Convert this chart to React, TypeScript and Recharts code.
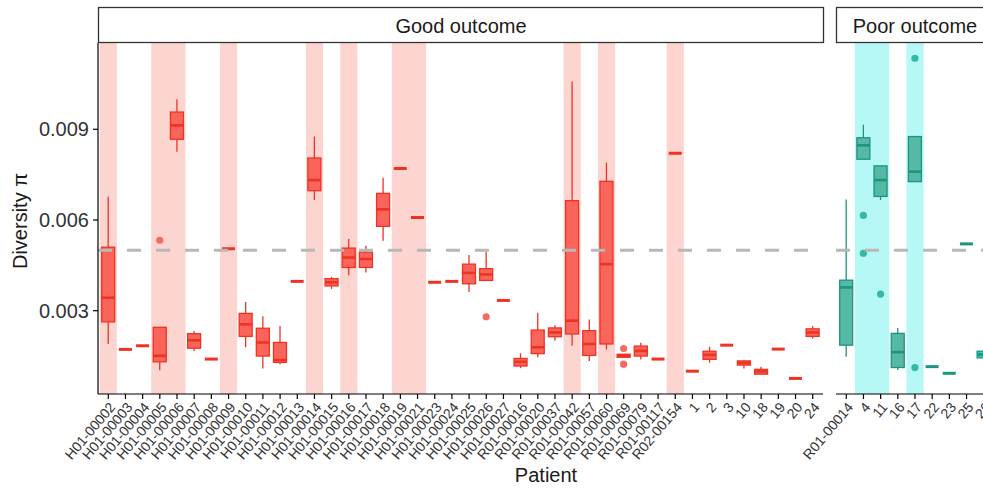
import React from "react";
import {
  ComposedChart,
  Bar,
  XAxis,
  YAxis,
  ReferenceArea,
  ReferenceLine,
} from "recharts";

// Nucleotide diversity per patient, summarised as boxplot stats
const goodPatients = [
  "H01-00002", "H01-00003", "H01-00004", "H01-00005", "H01-00006", "H01-00007",
  "H01-00008", "H01-00009", "H01-00010", "H01-00011", "H01-00012", "H01-00013",
  "H01-00014", "H01-00015", "H01-00016", "H01-00017", "H01-00018", "H01-00019",
  "H01-00021", "H01-00023", "H01-00024", "H01-00025", "H01-00026", "H01-00027",
  "R01-00016", "R01-00020", "R01-00037", "R01-00042", "R01-00057", "R01-00060",
  "R01-00069", "R01-00079", "R01-00117", "R02-00154",
  "1", "2", "3", "10", "18", "19", "20", "24",
];
const goodMin = [
  0.0019, 0.00172, 0.00184, 0.00103, 0.00826, 0.00167,
  0.0014, 0.00505, 0.00179, 0.00109, 0.00123, 0.00397,
  0.00666, 0.00372, 0.00417, 0.00426, 0.00531, 0.0077,
  0.00608, 0.00394, 0.00397, 0.00362, 0.004, 0.00334,
  0.0011, 0.00146, 0.00201, 0.00184, 0.00134, 0.00172,
  0.00146, 0.00139, 0.0014, 0.00821,
  0.001, 0.00128, 0.00186, 0.00109, 0.0009, 0.00173, 0.00076, 0.00208,
];
const goodQ1 = [
  0.00263, 0.00172, 0.00184, 0.00131, 0.00867, 0.00176,
  0.0014, 0.00505, 0.00215, 0.0015, 0.00129, 0.00397,
  0.00697, 0.00382, 0.00443, 0.00443, 0.00579, 0.0077,
  0.00608, 0.00394, 0.00397, 0.00389, 0.004, 0.00334,
  0.00117, 0.00158, 0.00214, 0.00223, 0.00152, 0.0019,
  0.00146, 0.0015, 0.0014, 0.00821,
  0.001, 0.00139, 0.00186, 0.0012, 0.0009, 0.00173, 0.00076, 0.00215,
];
const goodMedian = [
  0.00343, 0.00172, 0.00184, 0.00151, 0.00913, 0.00202,
  0.0014, 0.00505, 0.00255, 0.00195, 0.00137, 0.00397,
  0.00732, 0.00394, 0.00476, 0.00471, 0.00635, 0.0077,
  0.00608, 0.00394, 0.00397, 0.00425, 0.0042, 0.00334,
  0.00131, 0.00179, 0.00228, 0.00267, 0.0019, 0.00454,
  0.00151, 0.00167, 0.0014, 0.00821,
  0.001, 0.00154, 0.00186, 0.00128, 0.00099, 0.00173, 0.00076, 0.00228,
];
const goodQ3 = [
  0.0051, 0.00172, 0.00184, 0.00245, 0.00957, 0.00224,
  0.0014, 0.00505, 0.00291, 0.00242, 0.00195, 0.00397,
  0.00805, 0.00406, 0.00507, 0.00494, 0.00688, 0.0077,
  0.00608, 0.00394, 0.00397, 0.00454, 0.00439, 0.00334,
  0.00142, 0.00236, 0.00243, 0.00664, 0.00234, 0.00728,
  0.00156, 0.00183, 0.0014, 0.00821,
  0.001, 0.00166, 0.00186, 0.00134, 0.00106, 0.00173, 0.00076, 0.0024,
];
const goodMax = [
  0.00677, 0.00172, 0.00184, 0.00245, 0.00999, 0.00233,
  0.0014, 0.00505, 0.00329, 0.00282, 0.00249, 0.00397,
  0.00876, 0.00412, 0.00537, 0.00515, 0.0074, 0.0077,
  0.00608, 0.00394, 0.00397, 0.00484, 0.00494, 0.00334,
  0.00159, 0.00293, 0.00252, 0.01058, 0.00271, 0.0079,
  0.00156, 0.00194, 0.0014, 0.00821,
  0.001, 0.00181, 0.00186, 0.00134, 0.00115, 0.00173, 0.00076, 0.00249,
];
const goodOutliers: [string, number][] = [
  ["H01-00005", 0.00533],
  ["H01-00026", 0.0028],
  ["R01-00069", 0.00175],
  ["R01-00069", 0.00123],
];
const goodHighlighted = [
  "H01-00002", "H01-00005", "H01-00006", "H01-00009", "H01-00014", "H01-00016",
  "H01-00019", "H01-00021", "R01-00042", "R01-00060", "R02-00154",
];

const poorPatients = ["R01-00014", "4", "11", "16", "17", "22", "23", "25", "26"];
const poorMin = [0.00148, 0.00801, 0.00666, 0.00104, 0.00727, 0.00115, 0.00093, 0.00521, 0.00144];
const poorQ1 = [0.00186, 0.00801, 0.00678, 0.00112, 0.00727, 0.00115, 0.00093, 0.00521, 0.00144];
const poorMedian = [0.00377, 0.00847, 0.00732, 0.00163, 0.0076, 0.00115, 0.00093, 0.00521, 0.00155];
const poorQ3 = [0.00401, 0.00872, 0.00779, 0.00225, 0.00876, 0.00115, 0.00093, 0.00521, 0.00166];
const poorMax = [0.00668, 0.00915, 0.00779, 0.00243, 0.00876, 0.00115, 0.00093, 0.00521, 0.00166];
const poorOutliers: [string, number][] = [
  ["4", 0.00615],
  ["4", 0.0049],
  ["11", 0.00355],
  ["17", 0.01135],
  ["17", 0.00112],
];
const poorHighlighted = ["4", "11", "17"];

const Y_TICKS = [0.003, 0.006, 0.009];
const THRESHOLD = 0.005;
const Y_DOMAIN: [number, number] = [0.000245, 0.011854];

const FONT = '"Liberation Sans", Arial, Helvetica, sans-serif';

type Palette = { band: string; fill: string; stroke: string; point: string };
const GOOD_COLORS: Palette = { band: "#fdd5d0", fill: "#f9655b", stroke: "#ee3324", point: "#f66a62" };
const POOR_COLORS: Palette = { band: "#b5f8f6", fill: "#55b9a6", stroke: "#1b957f", point: "#35b8a6" };

type Row = {
  patient: string;
  range: [number, number];
  min: number;
  q1: number;
  median: number;
  q3: number;
  max: number;
  outliers: number[];
};

function buildRows(
  patients: string[],
  mins: number[],
  q1s: number[],
  medians: number[],
  q3s: number[],
  maxs: number[],
  outliers: [string, number][]
): Row[] {
  return patients.map((patient, i) => ({
    patient,
    range: [mins[i], maxs[i]],
    min: mins[i],
    q1: q1s[i],
    median: medians[i],
    q3: q3s[i],
    max: maxs[i],
    outliers: outliers.filter(([p]) => p === patient).map(([, v]) => v),
  }));
}

// merge neighbouring highlighted patients into one shaded strip
function highlightRuns(patients: string[], marked: string[]) {
  const runs: { x1: string; x2: string; end: number }[] = [];
  patients.forEach((p, i) => {
    if (!marked.includes(p)) return;
    const last = runs[runs.length - 1];
    if (last && last.end === i - 1) {
      last.x2 = p;
      last.end = i;
    } else {
      runs.push({ x1: p, x2: p, end: i });
    }
  });
  return runs;
}

// Bar gives the min..max pixel span; the rest of the box is placed on that span
function BoxGlyph(props: any) {
  const { x, y, width, height, payload, palette } = props;
  if (x == null || y == null || !payload) return null;
  const top = Math.min(y, y + height);
  const bottom = Math.max(y, y + height);
  const span = payload.max - payload.min;
  const toY = (v: number) =>
    span > 0 ? bottom - ((v - payload.min) / span) * (bottom - top) : top;
  const cx = x + width / 2;
  const left = x;
  const right = x + width;
  const flat = span === 0;

  return (
    <g>
      {flat ? (
        <line x1={left} x2={right} y1={top} y2={top} stroke={palette.stroke} strokeWidth={3} />
      ) : (
        <>
          <line x1={cx} x2={cx} y1={toY(payload.max)} y2={toY(payload.q3)} stroke={palette.stroke} strokeWidth={1.3} />
          <line x1={cx} x2={cx} y1={toY(payload.q1)} y2={toY(payload.min)} stroke={palette.stroke} strokeWidth={1.3} />
          <rect
            x={left}
            y={toY(payload.q3)}
            width={width}
            height={Math.max(toY(payload.q1) - toY(payload.q3), 0.5)}
            fill={palette.fill}
            stroke={palette.stroke}
            strokeWidth={1.3}
          />
          <line
            x1={left}
            x2={right}
            y1={toY(payload.median)}
            y2={toY(payload.median)}
            stroke={palette.stroke}
            strokeWidth={2.6}
          />
        </>
      )}
      {payload.outliers.map((v: number, i: number) => (
        <circle key={i} cx={cx} cy={toY(v)} r={3.6} fill={palette.point} />
      ))}
    </g>
  );
}

function SlantTick(props: any) {
  const { x, y, payload } = props;
  return (
    <text
      x={x}
      y={y}
      dy="0.72em"
      textAnchor="end"
      fontSize={14}
      fill="#333"
      transform={`rotate(-50 ${x} ${y})`}
    >
      {payload.value}
    </text>
  );
}

function Panel({
  rows,
  highlighted,
  palette,
  width,
  leftGutter,
  withYAxis,
}: {
  rows: Row[];
  highlighted: string[];
  palette: Palette;
  width: number;
  leftGutter: number;
  withYAxis: boolean;
}) {
  const runs = highlightRuns(rows.map((r) => r.patient), highlighted);
  return (
    <ComposedChart
      width={width}
      height={488}
      data={rows}
      margin={{ top: 43, right: 0, bottom: 0, left: leftGutter }}
    >
      {runs.map((run) => (
        <ReferenceArea
          key={run.x1}
          x1={run.x1}
          x2={run.x2}
          fill={palette.band}
          fillOpacity={1}
          stroke="none"
          ifOverflow="visible"
        />
      ))}
      <XAxis
        dataKey="patient"
        interval={0}
        height={94}
        padding={{ left: 1.7, right: 1.7 }}
        tickSize={5}
        tickMargin={2}
        tick={SlantTick}
        axisLine={{ stroke: "#000", strokeWidth: 1.2 }}
        tickLine={{ stroke: "#000", strokeWidth: 1.2 }}
      />
      <YAxis
        hide={!withYAxis}
        type="number"
        domain={Y_DOMAIN}
        ticks={Y_TICKS}
        allowDataOverflow
        width={98}
        tickSize={5}
        tickMargin={4}
        tick={{ fontSize: 20, fill: "#333" }}
        axisLine={{ stroke: "#000", strokeWidth: 1.2 }}
        tickLine={{ stroke: "#000", strokeWidth: 1.2 }}
      />
      <Bar
        dataKey="range"
        barSize={13}
        isAnimationActive={false}
        shape={(p: any) => <BoxGlyph {...p} palette={palette} />}
      />
      <ReferenceLine
        y={THRESHOLD}
        stroke="#b8b8b8"
        strokeWidth={3}
        strokeDasharray="14 15"
      />
    </ComposedChart>
  );
}

const goodRows = buildRows(goodPatients, goodMin, goodQ1, goodMedian, goodQ3, goodMax, goodOutliers);
const poorRows = buildRows(poorPatients, poorMin, poorQ1, poorMedian, poorQ3, poorMax, poorOutliers);

export default function App() {
  return (
    <div
      style={{
        position: "fixed",
        left: 0,
        top: 0,
        width: 983,
        height: 488,
        overflow: "hidden",
        background: "#fff",
        fontFamily: FONT,
      }}
    >
      <div style={{ position: "absolute", left: 0, top: 0 }}>
        <Panel
          rows={goodRows}
          highlighted={goodHighlighted}
          palette={GOOD_COLORS}
          width={823}
          leftGutter={0}
          withYAxis
        />
      </div>
      {/* second facet: extra gutter on the left so the first slanted label fits */}
      <div style={{ position: "absolute", left: 766, top: 0 }}>
        <Panel
          rows={poorRows}
          highlighted={poorHighlighted}
          palette={POOR_COLORS}
          width={228}
          leftGutter={70}
          withYAxis={false}
        />
      </div>
      <svg
        width={983}
        height={488}
        style={{ position: "absolute", left: 0, top: 0, pointerEvents: "none" }}
      >
        <rect x={98.5} y={7.5} width={725} height={35} fill="#fff" stroke="#333" strokeWidth={1.3} />
        <text x={461} y={32.5} textAnchor="middle" fontSize={20} fill="#1a1a1a">
          Good outcome
        </text>
        <rect x={836.5} y={7.5} width={158} height={35} fill="#fff" stroke="#333" strokeWidth={1.3} />
        <text x={915} y={32.5} textAnchor="middle" fontSize={20} fill="#1a1a1a">
          Poor outcome
        </text>
        <text x={546} y={482} textAnchor="middle" fontSize={20} fill="#1a1a1a">
          Patient
        </text>
        <text
          x={27}
          y={221}
          textAnchor="middle"
          fontSize={20}
          fill="#1a1a1a"
          transform="rotate(-90 27 221)"
        >
          Diversity π
        </text>
      </svg>
    </div>
  );
}
